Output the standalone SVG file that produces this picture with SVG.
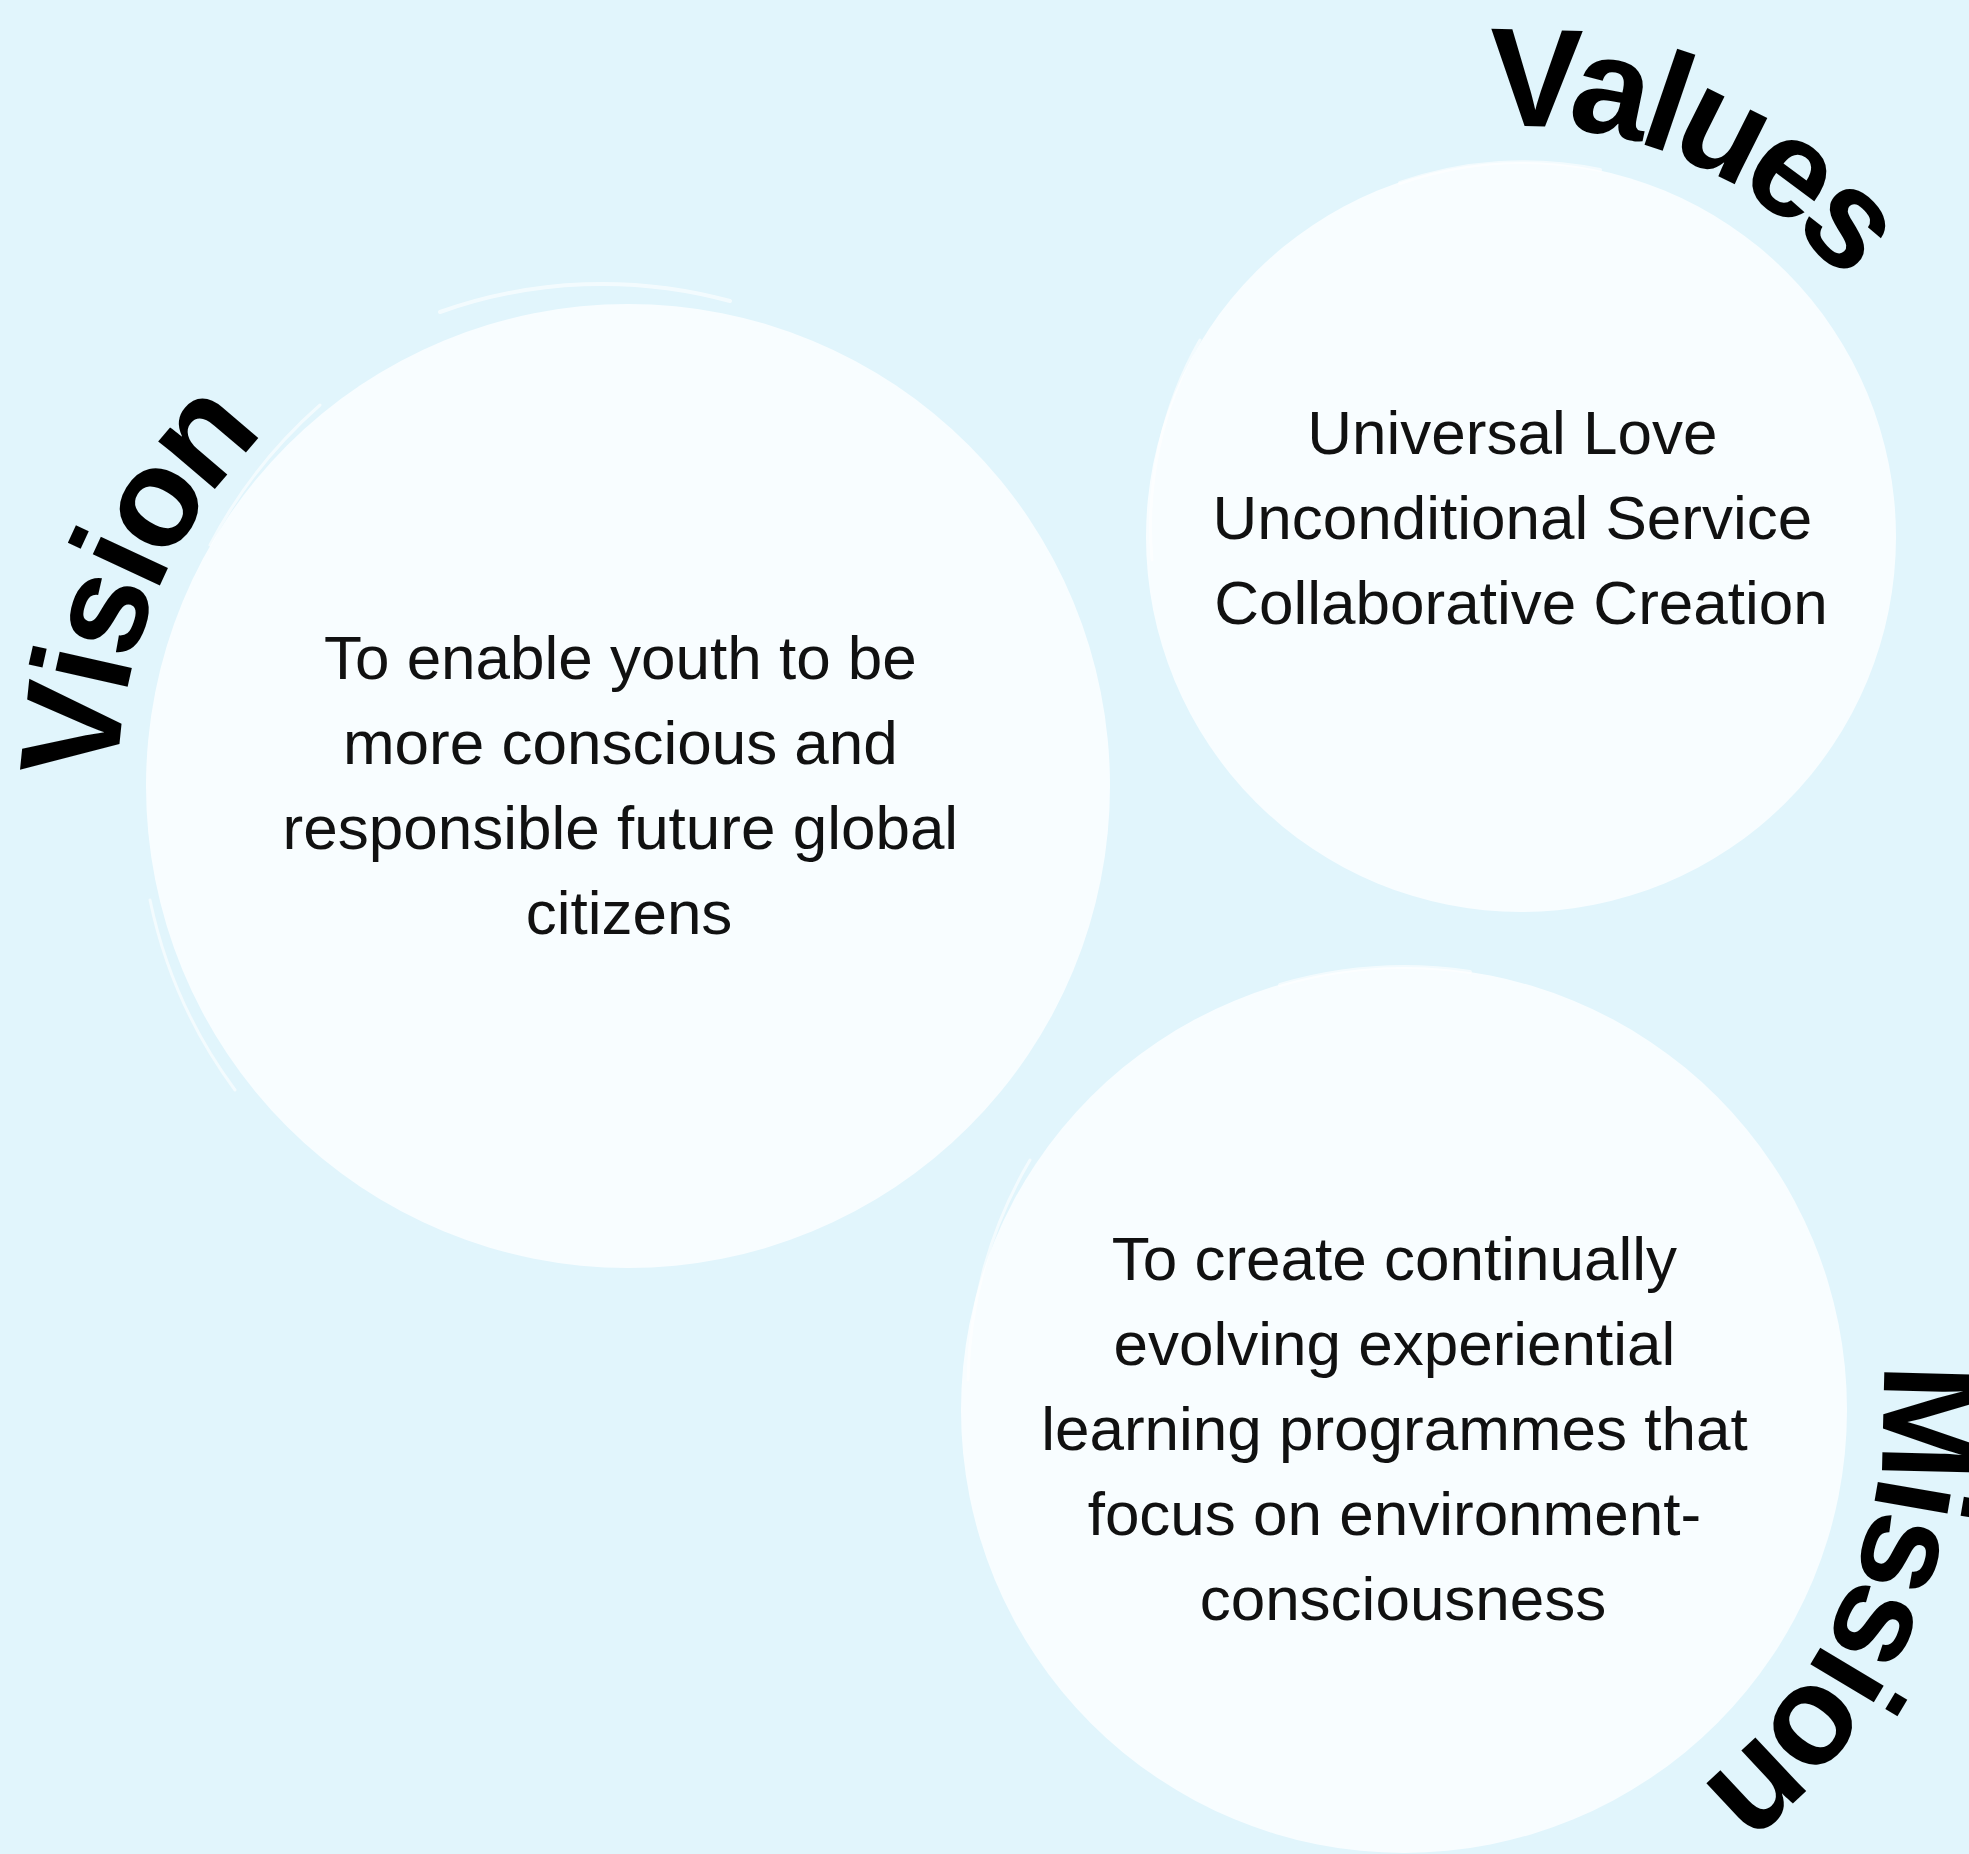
<svg xmlns="http://www.w3.org/2000/svg" width="1969" height="1854" viewBox="0 0 1969 1854">
  <style>
    .bg { fill: #e1f5fc; }
    .disc { fill: #f8fdff; }
    .streak { fill: none; stroke: #ffffff; stroke-linecap: round; opacity: 0.6; }
    .body { font-family: "Liberation Sans", Arial, sans-serif; font-size: 62px; fill: #111111; text-anchor: middle; }
    .title { font-family: "Liberation Sans", Arial, sans-serif; font-weight: bold; font-size: 140px; fill: #000000; dominant-baseline: central; }
  </style>
  <defs>
    <path id="arcVision" d="M 342 1259 A 546 546 0 0 1 801.7 273" />
    <path id="arcValues" d="M 1088.7 379.7 A 460 460 0 0 1 1974 616.9" />
    <path id="arcMission" d="M 1495.7 890 A 528 528 0 0 1 1404 1938" />
  </defs>
  <rect class="bg" x="0" y="0" width="1969" height="1854" />

  <g id="vision">
    <circle class="disc" cx="628" cy="786" r="482" />
    <path class="streak" stroke-width="4" d="M 440 312 A 484 484 0 0 1 730 301" />
    <path class="streak" stroke-width="3" d="M 210 545 A 488 488 0 0 1 320 405" />
    <path class="streak" stroke-width="3" d="M 150 900 A 487 487 0 0 0 235 1090" />
    <text class="body">
      <tspan x="629" y="679">To enable youth to be</tspan>
      <tspan x="629" y="764">more conscious and</tspan>
      <tspan x="629" y="849">responsible future global</tspan>
      <tspan x="629" y="934">citizens</tspan>
    </text>
    <text class="title"><textPath href="#arcVision" startOffset="791" text-anchor="middle">Vision</textPath></text>
  </g>

  <g id="values">
    <circle class="disc" cx="1521" cy="537" r="375" />
    <path class="streak" stroke-width="4" d="M 1400 183 A 378 378 0 0 1 1600 170" />
    <path class="streak" stroke-width="3" d="M 1200 340 A 378 378 0 0 0 1152 560" />
    <text class="body">
      <tspan x="1521" y="454">Universal Love</tspan>
      <tspan x="1521" y="539">Unconditional Service</tspan>
      <tspan x="1521" y="624">Collaborative Creation</tspan>
    </text>
    <text class="title"><textPath href="#arcValues" startOffset="752" text-anchor="middle">Values</textPath></text>
  </g>

  <g id="mission">
    <circle class="disc" cx="1404" cy="1410" r="443" />
    <path class="streak" stroke-width="4" d="M 1280 985 A 445 445 0 0 1 1470 972" />
    <path class="streak" stroke-width="3" d="M 1030 1160 A 446 446 0 0 0 968 1380" />
    <text class="body">
      <tspan x="1403" y="1280">To create continually</tspan>
      <tspan x="1403" y="1365">evolving experiential</tspan>
      <tspan x="1403" y="1450">learning programmes that</tspan>
      <tspan x="1403" y="1535">focus on environment-</tspan>
      <tspan x="1403" y="1620">consciousness</tspan>
    </text>
    <text class="title"><textPath href="#arcMission" startOffset="951.9" text-anchor="middle">Mission</textPath></text>
  </g>

  <g id="connectors"></g>
</svg>
